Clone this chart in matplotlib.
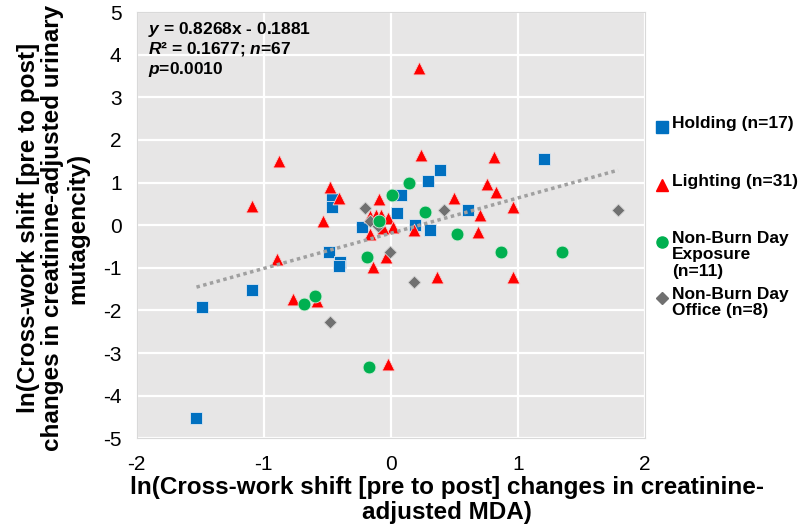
import matplotlib.pyplot as plt
from matplotlib.lines import Line2D

plt.rcParams['font.family'] = ['Liberation Sans', 'DejaVu Sans']
plt.rcParams['mathtext.fontset'] = 'custom'
plt.rcParams['mathtext.it'] = 'Liberation Sans:italic:bold'
plt.rcParams['mathtext.rm'] = 'Liberation Sans:bold'
plt.rcParams['axes.unicode_minus'] = False

# Holding (blue squares)
holding_x = [-1.53, -1.49, -1.09, -0.49, -0.40, -0.41, -0.46, -0.46, -0.23,
             0.05, 0.08, 0.19, 0.29, 0.39, 0.31, 0.61, 1.21]
holding_y = [-4.52, -1.93, -1.53, -0.64, -0.87, -0.96, 0.62, 0.42, -0.05,
             0.28, 0.71, 0.00, 1.04, 1.29, -0.12, 0.35, 1.55]

# Lighting (red triangles)
lighting_x = [-0.88, -1.09, -0.48, -0.41, -0.53, -0.09, -0.16, -0.16, -0.12,
              -0.08, -0.02, 0.02, -0.06, 0.24, 0.18, 0.50, 0.70, 0.69, 0.76,
              0.83, 0.81, 0.96, 0.96, -0.90, -0.77, -0.58, -0.14, -0.04,
              -0.02, 0.36, 0.22]
lighting_y = [1.50, 0.45, 0.90, 0.64, 0.10, 0.61, -0.20, 0.22, 0.24,
              0.24, 0.17, -0.05, -0.07, 1.65, -0.12, 0.64, 0.24, -0.16, 0.96,
              0.78, 1.60, 0.42, -1.22, -0.80, -1.74, -1.79, -0.99, -0.75,
              -3.25, -1.22, 3.70]

# Non-Burn Day Exposure (green circles)
exposure_x = [0.14, 0.01, -0.09, 0.27, 0.52, 0.87, 1.35, -0.19, -0.68, -0.60, -0.17]
exposure_y = [0.99, 0.70, 0.09, 0.30, -0.21, -0.64, -0.63, -0.75, -1.84, -1.67, -3.32]

# Non-Burn Day Office (gray diamonds)
office_x = [-0.20, -0.16, -0.10, 0.42, -0.01, 0.18, -0.48, 1.79]
office_y = [0.40, 0.10, -0.03, 0.35, -0.64, -1.34, -2.28, 0.35]

slope, intercept = 0.8268, -0.1881
fit_x = [-1.53, 1.79]

fig = plt.figure(figsize=(8, 5.28), dpi=100)
ax = fig.add_axes([0.171, 0.170, 0.635, 0.807])
ax.set_facecolor('#E7E6E6')
ax.set_xlim(-2, 2)
ax.set_ylim(-5, 5)
ax.set_xticks([-2, -1, 0, 1, 2])
ax.set_yticks(range(-5, 6))
ax.grid(True, color='white', linewidth=1.6)
ax.set_axisbelow(True)
ax.tick_params(length=0, labelsize=15)
ax.tick_params(axis='x', pad=12)
ax.tick_params(axis='y', pad=11)
for s in ax.spines.values():
    s.set_color('#D9D9D9')

ax.scatter(holding_x, holding_y, marker='s', s=75, color='#0070C0',
           edgecolors='#DDE6F0', linewidths=0.6, zorder=3)
ax.scatter(lighting_x, lighting_y, marker='^', s=85, color='#FF0000',
           edgecolors='#F4D0D0', linewidths=0.6, zorder=3)
ax.scatter(office_x, office_y, marker='D', s=42, color='#707070',
           edgecolors='#D0D0D0', linewidths=0.6, zorder=3)
ax.scatter(exposure_x, exposure_y, marker='o', s=85, color='#00B050',
           edgecolors='#D0EAD8', linewidths=0.6, zorder=3)

ax.plot(fit_x, [slope * x + intercept for x in fit_x], color='#A0A0A0',
        linestyle=(0, (1, 1)), linewidth=2.5, zorder=4)

ax.text(0.022, 0.960, '$y$ = 0.8268x - 0.1881', transform=ax.transAxes,
        fontsize=12.5, fontweight='bold', va='center')
ax.text(0.022, 0.914, '$R$² = 0.1677; $n$=67', transform=ax.transAxes,
        fontsize=12.5, fontweight='bold', va='center')
ax.text(0.022, 0.865, '$p$=0.0010', transform=ax.transAxes,
        fontsize=12.5, fontweight='bold', va='center')

fig.text(0.559, 0.053, 'ln(Cross-work shift [pre to post] changes in creatinine-\nadjusted MDA)',
         ha='center', va='center', fontsize=17.5, fontweight='bold', linespacing=1.1)
fig.text(0.066, 0.568, 'ln(Cross-work shift [pre to post]\nchanges in creatinine-adjusted urinary\nmutagencity)',
         ha='center', va='center', rotation=90, fontsize=17.5, fontweight='bold',
         linespacing=1.1, multialignment='center')

# legend drawn by hand, Excel-style (marker beside first line)
legend_items = [
    ('s', '#0070C0', 8, 'Holding (n=17)', 127),
    ('^', '#FF0000', 8, 'Lighting (n=31)', 185),
    ('o', '#00B050', 8, 'Non-Burn Day\nExposure\n(n=11)', 242),
    ('D', '#707070', 6, 'Non-Burn Day\nOffice (n=8)', 298),
]
for mk, col, ms, label, ypix in legend_items:
    yf = 1 - ypix / 528
    fig.add_artist(Line2D([662 / 800], [yf], marker=mk, color=col, markersize=ms,
                          linestyle='none', transform=fig.transFigure))
    fig.text(672 / 800, yf + 0.021, label, ha='left', va='top', fontsize=12.5,
             fontweight='bold', linespacing=1.12)

fig.savefig('out.png', dpi=100)
